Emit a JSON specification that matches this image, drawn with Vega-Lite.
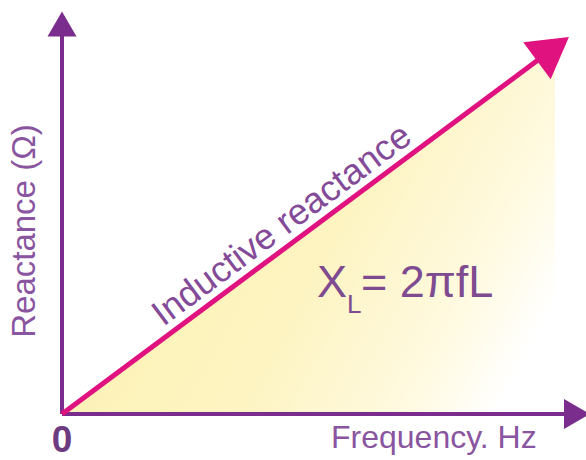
{
  "$schema": "https://vega.github.io/schema/vega-lite/v6.json",
  "width": 586,
  "height": 460,
  "padding": 0,
  "autosize": {"type": "none"},
  "background": "white",
  "config": {"view": {"stroke": null}},
  "encoding": {
    "x": {"field": "f", "type": "quantitative", "axis": null, "scale": {"domain": [-12.4, 104.8], "nice": false, "zero": false}},
    "y": {"field": "r", "type": "quantitative", "axis": null, "scale": {"domain": [-9.2, 82.8], "nice": false, "zero": false}}
  },
  "layer": [
    {
      "data": {"values": [{"f": 0, "r": 0}, {"f": 98.6, "r": 73.3}]},
      "mark": {"type": "area", "color": {"gradient": "linear", "x1": 0, "y1": 0.3, "x2": 1, "y2": 0.7, "stops": [{"offset": 0, "color": "#fcf1b0"}, {"offset": 0.55, "color": "#fdf4c2"}, {"offset": 0.85, "color": "#fffae2"}, {"offset": 1, "color": "#ffffff"}]}},
      "encoding": {"y2": {"datum": 0}}
    },
    {
      "data": {"values": [{"f": 0, "r": 0, "f2": 0, "r2": 75.6}, {"f": 0, "r": 0, "f2": 100.8, "r2": 0}]},
      "mark": {"type": "rule", "color": "#7b2d8e", "strokeWidth": 4},
      "encoding": {"x2": {"field": "f2"}, "y2": {"field": "r2"}}
    },
    {
      "data": {"values": [{"f": 0, "r": 78}]},
      "mark": {"type": "point", "shape": "triangle-up", "filled": true, "opacity": 1, "color": "#7b2d8e", "size": 841, "angle": 0}
    },
    {
      "data": {"values": [{"f": 103, "r": 0}]},
      "mark": {"type": "point", "shape": "triangle-up", "filled": true, "opacity": 1, "color": "#7b2d8e", "size": 900, "angle": 90}
    },
    {
      "data": {"values": [{"f": 0, "r": 0}, {"f": 95.6, "r": 71.1}]},
      "mark": {"type": "line", "color": "#e0127f", "strokeWidth": 5}
    },
    {
      "data": {"values": [{"f": 98.19, "r": 73.02}]},
      "mark": {"type": "point", "shape": "triangle-up", "filled": true, "opacity": 1, "color": "#e0127f", "size": 2116, "angle": 53.4}
    },
    {
      "data": {"values": [{"f": 45.3, "r": 36.0, "label": "Inductive reactance"}]},
      "mark": {"type": "text", "font": "Liberation Sans", "fontSize": 36, "color": "#834a98", "angle": -36.6, "align": "center", "baseline": "alphabetic"},
      "encoding": {"text": {"field": "label"}}
    },
    {
      "data": {"values": [{"f": -5.5, "r": 36.6, "label": "Reactance (Ω)"}]},
      "mark": {"type": "text", "font": "Liberation Sans", "fontSize": 33, "color": "#8a55a0", "angle": -90, "align": "center", "baseline": "alphabetic"},
      "encoding": {"text": {"field": "label"}}
    },
    {
      "data": {"values": [{"f": 53.8, "r": -6.8, "label": "Frequency. Hz"}]},
      "mark": {"type": "text", "font": "Liberation Sans", "fontSize": 32, "color": "#8a55a0", "align": "left", "baseline": "alphabetic"},
      "encoding": {"text": {"field": "label"}}
    },
    {
      "data": {"values": [{"f": 0, "r": -9.15, "label": "0"}]},
      "mark": {"type": "text", "font": "Liberation Sans", "fontSize": 37, "fontWeight": "bold", "color": "#6d3b80", "align": "center", "baseline": "bottom"},
      "encoding": {"text": {"field": "label"}}
    },
    {
      "data": {"values": [{"f": 51.0, "r": 23.4, "label": "X"}]},
      "mark": {"type": "text", "font": "Liberation Sans", "fontSize": 45, "color": "#7e4a90", "align": "left", "baseline": "alphabetic"},
      "encoding": {"text": {"field": "label"}}
    },
    {
      "data": {"values": [{"f": 57.0, "r": 20.2, "label": "L"}]},
      "mark": {"type": "text", "font": "Liberation Sans", "fontSize": 26, "color": "#7e4a90", "align": "left", "baseline": "alphabetic"},
      "encoding": {"text": {"field": "label"}}
    },
    {
      "data": {"values": [{"f": 59.8, "r": 23.4, "label": "= 2πfL"}]},
      "mark": {"type": "text", "font": "Liberation Sans", "fontSize": 45, "color": "#7e4a90", "align": "left", "baseline": "alphabetic"},
      "encoding": {"text": {"field": "label"}}
    }
  ]
}
